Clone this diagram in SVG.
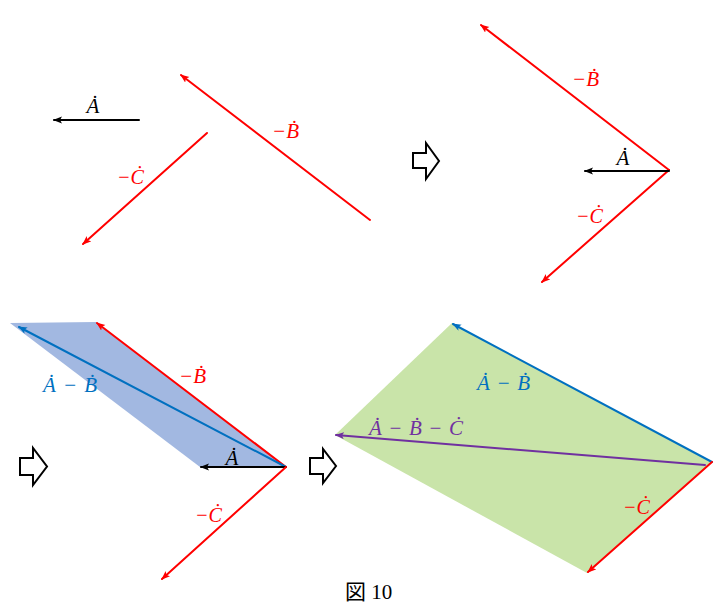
<svg xmlns="http://www.w3.org/2000/svg" width="716" height="616" viewBox="0 0 716 616">
<defs>
<marker id="mk-black" markerUnits="userSpaceOnUse" markerWidth="10" markerHeight="8" refX="8" refY="3.5" orient="auto"><path d="M0,0 L9,3.5 L0,7 L2,3.5 Z" fill="#000"/></marker>
<marker id="mk-red" markerUnits="userSpaceOnUse" markerWidth="10" markerHeight="8" refX="8" refY="3.5" orient="auto"><path d="M0,0 L9,3.5 L0,7 L2,3.5 Z" fill="#FF0000"/></marker>
<marker id="mk-blue" markerUnits="userSpaceOnUse" markerWidth="10" markerHeight="8" refX="8" refY="3.5" orient="auto"><path d="M0,0 L9,3.5 L0,7 L2,3.5 Z" fill="#0070C0"/></marker>
<marker id="mk-purple" markerUnits="userSpaceOnUse" markerWidth="10" markerHeight="8" refX="8" refY="3.5" orient="auto"><path d="M0,0 L9,3.5 L0,7 L2,3.5 Z" fill="#7030A0"/></marker>
</defs>
<style>
.v{fill:none;stroke-width:2;stroke-linecap:round}
.k{stroke:#000;marker-end:url(#mk-black)}
.r{stroke:#FF0000;marker-end:url(#mk-red)}
.b{stroke:#0070C0;marker-end:url(#mk-blue)}
.p{stroke:#7030A0;marker-end:url(#mk-purple)}
.lbl{font-family:"Liberation Serif","DejaVu Serif",serif;font-style:italic;font-size:21px}
.tk{fill:#000}.tr{fill:#FF0000}.tb{fill:#0070C0}.tp{fill:#7030A0}
.hollow{fill:#fff;stroke:#000;stroke-width:2;stroke-linejoin:miter}
.cap{font-family:"Liberation Serif","Noto Sans CJK JP",serif;font-size:21px;fill:#000}
</style>
<rect width="716" height="616" fill="#fff"/>

<g id="fills">
<polygon points="286,467 96,322 10,323 200,467" fill="#A2B8E1"/>
<polygon points="712,462 452,323 335,435 587,573" fill="#C9E4A9"/>
</g>

<g id="step-arrows">
<path id="step1" class="hollow" d="M413,153 H426 V143 L439,161 L426,179 V168 H413 Z"/>
<path id="step2" class="hollow" d="M20,458 H33 V448 L47,466.5 L33,485 V475 H20 Z"/>
<path id="step3" class="hollow" d="M310,458 H323 V449 L336,466 L323,483 V474 H310 Z"/>
</g>

<g id="connectors">
<line class="v k" x1="139" y1="120" x2="54" y2="120"/>
<line class="v r" x1="370" y1="220" x2="181" y2="75"/>
<line class="v r" x1="207" y1="133" x2="83" y2="244"/>

<line class="v r" x1="669" y1="170" x2="481" y2="25"/>
<line class="v r" x1="669" y1="170" x2="542" y2="282"/>
<line class="v k" x1="669" y1="171" x2="585" y2="171"/>

<line class="v r" x1="286" y1="467" x2="97" y2="323"/>
<line class="v b" x1="286" y1="467" x2="19" y2="327"/>
<line class="v k" x1="286" y1="467" x2="201" y2="467"/>
<line class="v r" x1="286" y1="467" x2="162" y2="579"/>

<line class="v b" x1="712" y1="462" x2="453" y2="324"/>
<line class="v r" x1="712" y1="462" x2="588" y2="572"/>
<line class="v p" x1="705" y1="465" x2="336" y2="435"/>
</g>

<g id="labels">
<text class="lbl tk" x="93" y="113" text-anchor="middle">Ȧ</text>
<text class="lbl tr" x="272" y="138" textLength="27" lengthAdjust="spacingAndGlyphs">−Ḃ</text>
<text class="lbl tr" x="117" y="184" textLength="27" lengthAdjust="spacingAndGlyphs">−Ċ</text>

<text class="lbl tr" x="572" y="86" textLength="27" lengthAdjust="spacingAndGlyphs">−Ḃ</text>
<text class="lbl tk" x="623" y="165" text-anchor="middle">Ȧ</text>
<text class="lbl tr" x="576" y="223" textLength="27" lengthAdjust="spacingAndGlyphs">−Ċ</text>

<text class="lbl tb" x="43" y="392" textLength="54" lengthAdjust="spacing">Ȧ − Ḃ</text>
<text class="lbl tr" x="179" y="383" textLength="27" lengthAdjust="spacingAndGlyphs">−Ḃ</text>
<text class="lbl tk" x="232" y="465" text-anchor="middle">Ȧ</text>
<text class="lbl tr" x="195" y="522" textLength="27" lengthAdjust="spacingAndGlyphs">−Ċ</text>

<text class="lbl tb" x="477" y="390" textLength="53" lengthAdjust="spacing">Ȧ − Ḃ</text>
<text class="lbl tp" x="369" y="435" textLength="94" lengthAdjust="spacing">Ȧ − Ḃ − Ċ</text>
<text class="lbl tr" x="623" y="514" textLength="27" lengthAdjust="spacingAndGlyphs">−Ċ</text>
</g>

<text id="caption" class="cap" x="345" y="599">図 10</text>
</svg>
